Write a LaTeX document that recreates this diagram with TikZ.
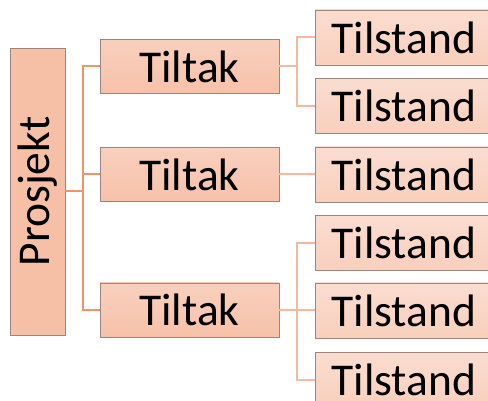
\documentclass[tikz,border=0pt]{standalone}
\usepackage{fontspec}
\setmainfont{Carlito}
\definecolor{bordc}{HTML}{9C8581}
\definecolor{conA}{HTML}{F0946A}
\definecolor{conB}{HTML}{F6B89E}
\definecolor{pFill}{HTML}{F6C0A6}
\definecolor{tTop}{HTML}{F8D0BE}
\definecolor{tBot}{HTML}{F7C1A9}
\definecolor{sTop}{HTML}{FADDD0}
\definecolor{sBot}{HTML}{F9CFBD}
\tikzset{
  box/.style={draw=bordc, line width=0.9pt, inner sep=0pt, text=black,
    font=\fontsize{45.5}{45.5}\selectfont},
  projbox/.style={box, rotate=90, minimum width=287pt, minimum height=55pt,
    fill=pFill},
  tiltakbox/.style={box, minimum width=179pt, minimum height=54pt,
    top color=tTop, bottom color=tBot},
  tilstandbox/.style={box, minimum width=178pt, minimum height=55pt,
    top color=sTop, bottom color=sBot},
  linkA/.style={draw=conA, line width=2pt},
  linkB/.style={draw=conB, line width=2pt},
}
\begin{document}
\begin{tikzpicture}[x=1pt,y=-1pt]
\useasboundingbox (0,0) rectangle (488,401);
\clip (0,0) rectangle (488,401);
\fill[white] (0,0) rectangle (488,401);

\node[projbox] (P) at (37.5,191.5) {Prosjekt};

\node[tiltakbox] (T1) at (189.5,66.5) {Tiltak};
\node[tiltakbox] (T2) at (189.5,174.5) {Tiltak};
\node[tiltakbox] (T3) at (189.5,310) {Tiltak};

\node[tilstandbox] (S1) at (404,37.5) {Tilstand};
\node[tilstandbox] (S2) at (404,106) {Tilstand};
\node[tilstandbox] (S3) at (404,174.5) {Tilstand};
\node[tilstandbox] (S4) at (404,243) {Tilstand};
\node[tilstandbox] (S5) at (404,310.5) {Tilstand};
\node[tilstandbox] (S6) at (404,379.5) {Tilstand};

\coordinate (j0) at (83,191.5);
\coordinate (j1) at (297,66.5);
\coordinate (j3) at (297,310);

\draw[linkA] (P.south) -- (j0);
\draw[linkA] (j0) |- (T1.west);
\draw[linkA] (j0) |- (T2.west);
\draw[linkA] (j0) |- (T3.west);

\draw[linkB] (T1.east) -- (j1);
\draw[linkB] (j1) |- (S1.west);
\draw[linkB] (j1) |- (S2.west);
\draw[linkB] (T2.east) -- (S3.west);
\draw[linkB] (T3.east) -- (j3);
\draw[linkB] (j3) |- (S4.west);
\draw[linkB] (j3) |- (S5.west);
\draw[linkB] (j3) |- (S6.west);
\end{tikzpicture}
\end{document}
